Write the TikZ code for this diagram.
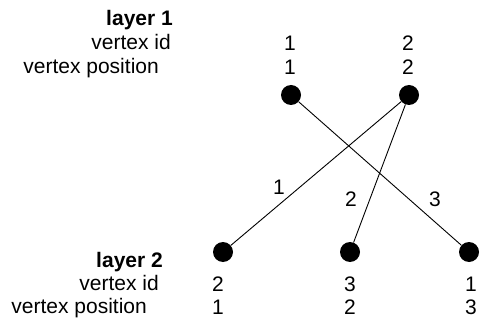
\documentclass[tikz,border=0pt]{standalone}
\usepackage{fontspec}
\setmainfont{Liberation Sans}
\begin{document}
\begin{tikzpicture}[x=1pt,y=-1pt,
  txt/.style={inner sep=0pt,font=\fontsize{21}{24}\selectfont},
  rlabel/.style={txt,anchor=base east},
  num/.style={txt,anchor=base},
  dot/.style={circle,fill=black,draw=none,minimum size=20pt,inner sep=0pt},
  edge/.style={line width=0.9pt}]
\useasboundingbox (0,0) rectangle (481,320);
% layer 1 labels
\node[rlabel,font=\fontsize{21}{24}\selectfont\bfseries] (l1) at (173,26) {layer 1};
\node[rlabel] (l1id) at (171,50) {vertex id};
\node[rlabel] (l1pos) at (159,74) {vertex position};
\node[num] (a1id) at (290,51) {1};
\node[num] (a2id) at (408,51) {2};
\node[num] (a1pos) at (290,75) {1};
\node[num] (a2pos) at (408,75) {2};
% layer 2 labels
\node[rlabel,font=\fontsize{21}{24}\selectfont\bfseries] (l2) at (163,267) {layer 2};
\node[rlabel] (l2id) at (159,290) {vertex id};
\node[rlabel] (l2pos) at (147,313) {vertex position};
\node[num] (b1id) at (218,291) {2};
\node[num] (b2id) at (350,291) {3};
\node[num] (b3id) at (471,291) {1};
\node[num] (b1pos) at (218,314) {1};
\node[num] (b2pos) at (350,314) {2};
\node[num] (b3pos) at (471,314) {3};
% dots
\node[dot] (a1) at (291,95) {};
\node[dot] (a2) at (409,95) {};
\node[dot] (b1) at (223,252) {};
\node[dot] (b2) at (350,252) {};
\node[dot] (b3) at (469,252) {};
% edges
\draw[edge] (a1) -- (b3);
\draw[edge] (a2) -- (b1);
\draw[edge] (a2) -- (b2);
% edge labels
\node[num] (e1) at (279,195) {1};
\node[num] (e2) at (351,207) {2};
\node[num] (e3) at (435,207) {3};
\end{tikzpicture}
\end{document}
